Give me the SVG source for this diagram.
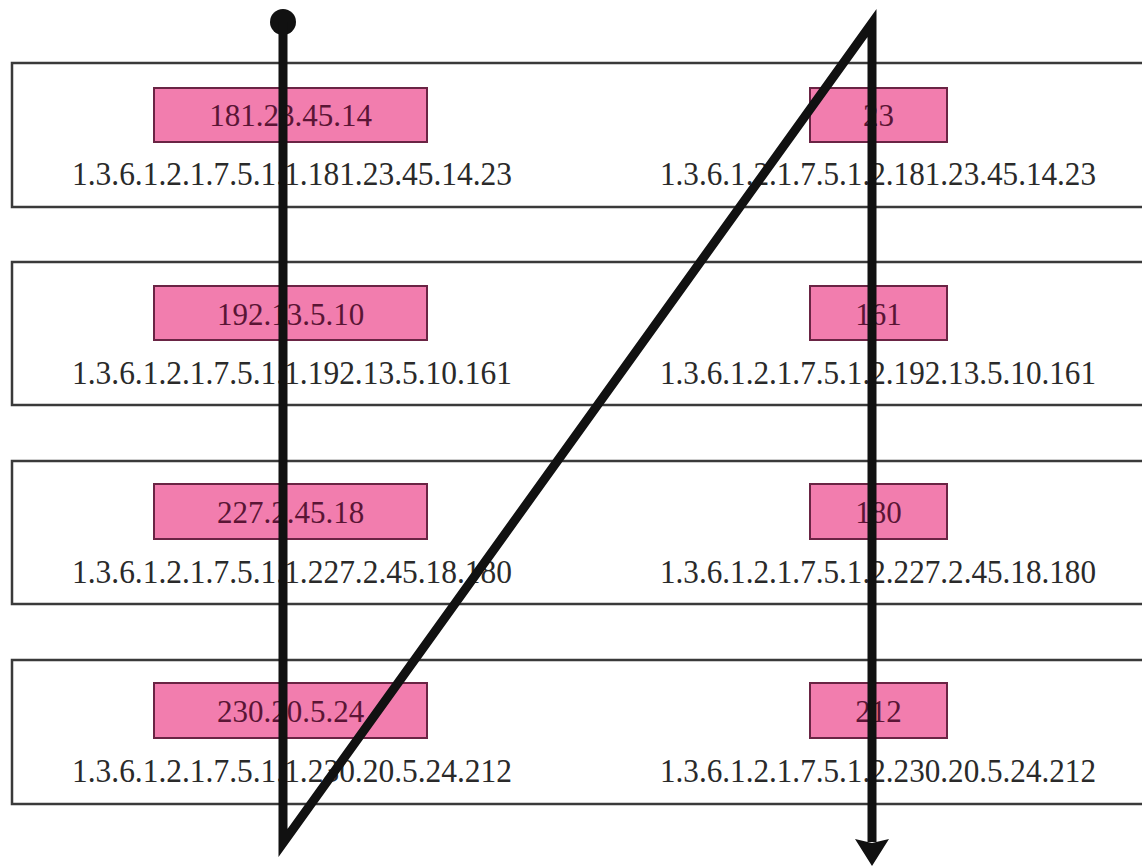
<svg xmlns="http://www.w3.org/2000/svg" width="1142" height="868" viewBox="0 0 1142 868">
  <style>
    .row { fill: #ffffff; stroke: #3a3a3a; stroke-width: 2.5; }
    .key { fill: #f27dae; stroke: #6a2444; stroke-width: 2; }
    .keytxt { font-family: "Liberation Serif", "Times New Roman", serif; font-size: 31px; fill: #5a1535; text-anchor: middle; }
    .oid { font-family: "Liberation Serif", "Times New Roman", serif; font-size: 34px; fill: #2a2a2a; text-anchor: middle; }
    .path { fill: none; stroke: #111111; stroke-width: 9; stroke-linejoin: miter; stroke-miterlimit: 6; }
  </style>
  <defs>
    <marker id="arrow" markerUnits="userSpaceOnUse" markerWidth="30" markerHeight="34" refX="3" refY="17" orient="auto" viewBox="0 0 30 34">
      <path d="M0,0 L27,17 L0,34 L4,17 Z" fill="#111111"/>
    </marker>
  </defs>

  <rect width="1142" height="868" fill="#ffffff"/>

  <!-- table rows: one per conceptual row of the UDP table -->
  <g id="row1">
    <rect class="row" x="12" y="63" width="1140" height="144"/>
    <g id="row1-addr">
      <rect class="key" x="154" y="88" width="273" height="54"/>
      <text class="keytxt" x="290.5" y="126">181.23.45.14</text>
      <text class="oid" x="292" y="185" textLength="440" lengthAdjust="spacingAndGlyphs">1.3.6.1.2.1.7.5.1.1.181.23.45.14.23</text>
    </g>
    <g id="row1-port">
      <rect class="key" x="810" y="88" width="137" height="54"/>
      <text class="keytxt" x="878.5" y="126">23</text>
      <text class="oid" x="878" y="185" textLength="436" lengthAdjust="spacingAndGlyphs">1.3.6.1.2.1.7.5.1.2.181.23.45.14.23</text>
    </g>
  </g>

  <g id="row2">
    <rect class="row" x="12" y="262" width="1140" height="143"/>
    <g id="row2-addr">
      <rect class="key" x="154" y="286" width="273" height="54"/>
      <text class="keytxt" x="290.5" y="325">192.13.5.10</text>
      <text class="oid" x="292" y="384" textLength="440" lengthAdjust="spacingAndGlyphs">1.3.6.1.2.1.7.5.1.1.192.13.5.10.161</text>
    </g>
    <g id="row2-port">
      <rect class="key" x="810" y="286" width="137" height="54"/>
      <text class="keytxt" x="878.5" y="325">161</text>
      <text class="oid" x="878" y="384" textLength="436" lengthAdjust="spacingAndGlyphs">1.3.6.1.2.1.7.5.1.2.192.13.5.10.161</text>
    </g>
  </g>

  <g id="row3">
    <rect class="row" x="12" y="461" width="1140" height="143"/>
    <g id="row3-addr">
      <rect class="key" x="154" y="484" width="273" height="55"/>
      <text class="keytxt" x="290.5" y="523">227.2.45.18</text>
      <text class="oid" x="292" y="583" textLength="440" lengthAdjust="spacingAndGlyphs">1.3.6.1.2.1.7.5.1.1.227.2.45.18.180</text>
    </g>
    <g id="row3-port">
      <rect class="key" x="810" y="484" width="137" height="55"/>
      <text class="keytxt" x="878.5" y="523">180</text>
      <text class="oid" x="878" y="583" textLength="436" lengthAdjust="spacingAndGlyphs">1.3.6.1.2.1.7.5.1.2.227.2.45.18.180</text>
    </g>
  </g>

  <g id="row4">
    <rect class="row" x="12" y="660" width="1140" height="144"/>
    <g id="row4-addr">
      <rect class="key" x="154" y="683" width="273" height="55"/>
      <text class="keytxt" x="290.5" y="722">230.20.5.24</text>
      <text class="oid" x="292" y="782" textLength="440" lengthAdjust="spacingAndGlyphs">1.3.6.1.2.1.7.5.1.1.230.20.5.24.212</text>
    </g>
    <g id="row4-port">
      <rect class="key" x="810" y="683" width="137" height="55"/>
      <text class="keytxt" x="878.5" y="722">212</text>
      <text class="oid" x="878" y="782" textLength="436" lengthAdjust="spacingAndGlyphs">1.3.6.1.2.1.7.5.1.2.230.20.5.24.212</text>
    </g>
  </g>

  <!-- lexicographic traversal order: down the address column, then the port column -->
  <g id="connectors">
    <circle cx="283" cy="22" r="13" fill="#111111"/>
    <polyline class="path" points="283,22 283,843 872,23 872,842" marker-end="url(#arrow)"/>
  </g>
</svg>
